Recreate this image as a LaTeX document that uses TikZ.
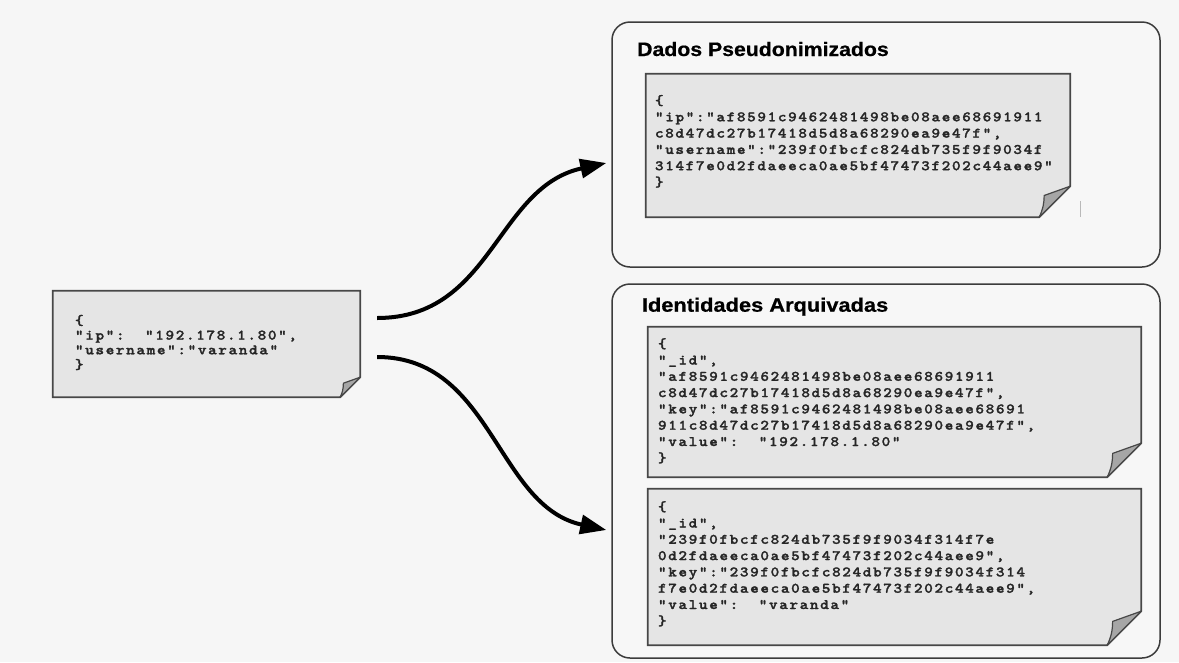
\documentclass[tikz,border=0pt]{standalone}
\usepackage{graphicx}
\usepackage{fontspec}
\setmainfont{Liberation Sans}
\newfontfamily\codefont{lmmonolt10-bold}[Extension=.otf, LetterSpace=10, FakeBold=1.6]
\newfontfamily\titlefont{Liberation Sans}[FakeBold=0.6]
\usetikzlibrary{arrows.meta}

\definecolor{bgcol}{HTML}{F6F6F6}
\definecolor{grpfill}{HTML}{F7F7F7}
\definecolor{notefill}{HTML}{E5E5E5}
\definecolor{noteline}{HTML}{474747}
\definecolor{earfill}{HTML}{A6A6A6}
\definecolor{codecol}{HTML}{262626}
\definecolor{grpline}{HTML}{3C3C3C}

\tikzset{
  group/.style={draw=grpline, line width=1.5pt, rounded corners=18pt, fill=grpfill, inner sep=0pt},
  sheet/.style={inner sep=0pt, draw=none},
  code/.style={font=\codefont\fontsize{14.5}{16.3}\selectfont, text=codecol,
               inner sep=0pt, anchor=west},
  title/.style={font=\titlefont\bfseries\fontsize{19.5}{22}\selectfont, inner sep=0pt, anchor=base west},
  flow/.style={line width=4pt, -{Triangle[length=26pt,width=19pt]}},
}

% lines of a record, widened like the typewriter face of the listing
\newcommand\codelines[1]{\scalebox{1.13}[1]{\begin{tabular}{@{}l@{}}#1\end{tabular}}}

% sheet of paper with a folded bottom-right corner, drawn over a named node
\newcommand\drawsheet[2]{%
  \filldraw[fill=notefill, draw=noteline, line width=1.8pt, line join=miter]
    (#1.north west) -- (#1.north east) -- ([yshift=#2]#1.south east)
    -- ([xshift=-#2]#1.south east) -- (#1.south west) -- cycle;
  \filldraw[fill=earfill, draw=noteline, line width=1.2pt, line join=round]
    ([yshift=#2]#1.south east) -- ([xshift=-0.84*#2, yshift=0.7*#2]#1.south east)
    to[bend left=12] ([xshift=-#2]#1.south east) -- cycle;
}

\begin{document}
\begin{tikzpicture}[x=1pt, y=-1pt]
  \fill[bgcol] (0,0) rectangle (1179,662);
  \useasboundingbox (0,0) rectangle (1179,662);

  % containers
  \node[group, minimum width=548pt, minimum height=245pt] (grp1) at (886,144.5) {};
  \node[group, minimum width=548pt, minimum height=374pt] (grp2) at (886,471) {};
  \node[title] (t1) at (637,56) {\scalebox{1.09}[1]{Dados Pseudonimizados}};
  \node[title] (t2) at (641.7,311.7) {\scalebox{1.12}[1]{Identidades Arquivadas}};

  % sheets
  \node[sheet, minimum width=307pt, minimum height=106pt] (lnote) at (206.5,344) {};
  \node[sheet, minimum width=424pt, minimum height=143pt] (n1) at (858,145.5) {};
  \node[sheet, minimum width=493pt, minimum height=150pt] (n2) at (894.5,402) {};
  \node[sheet, minimum width=493pt, minimum height=156pt] (n3) at (894.5,567) {};
  \drawsheet{lnote}{20pt}
  \drawsheet{n1}{31pt}
  \drawsheet{n2}{34pt}
  \drawsheet{n3}{34pt}
  \draw[gray!55, line width=1pt] (1080,201) -- (1080,217);

  % record contents
  \node[code, font=\codefont\fontsize{14.5}{14.7}\selectfont] (lt) at ([xshift=22pt]lnote.west)
    {\codelines{\{\\“ip”:~~“192.178.1.80”,\\“username”:”varanda”\\\}}};
  \node[code] (n1t) at ([xshift=9pt,yshift=3pt]n1.west)
    {\codelines{\{\\“ip”:“af8591c9462481498be08aee68691911\\c8d47dc27b17418d5d8a68290ea9e47f”,\\“username”:”239f0fbcfc824db735f9f9034f\\314f7e0d2fdaeeca0ae5bf47473f202c44aee9”\\\}}};
  \node[code] (n2t) at ([xshift=10pt]n2.west)
    {\codelines{\{\\“\_id”,\\“af8591c9462481498be08aee68691911\\c8d47dc27b17418d5d8a68290ea9e47f”,\\“key”:“af8591c9462481498be08aee68691\\911c8d47dc27b17418d5d8a68290ea9e47f”,\\“value”:~~“192.178.1.80”\\\}}};
  \node[code] (n3t) at ([xshift=10pt,yshift=2pt]n3.west)
    {\codelines{\{\\“\_id”,\\“239f0fbcfc824db735f9f9034f314f7e\\0d2fdaeeca0ae5bf47473f202c44aee9”,\\“key”:“239f0fbcfc824db735f9f9034f314\\f7e0d2fdaeeca0ae5bf47473f202c44aee9”,\\“value”:~~“varanda”\\\}}};

  % flows
  \draw[flow] ([xshift=17pt,yshift=26pt]lnote.east)
    .. controls +(115,0) and +(-110,24) .. ([xshift=-5pt,yshift=-18.5pt]grp1.west);
  \draw[flow] ([xshift=17pt,yshift=-13pt]lnote.east)
    .. controls +(115,0) and +(-110,-24) .. ([xshift=-5pt,yshift=-59pt]grp2.west);
\end{tikzpicture}
\end{document}
